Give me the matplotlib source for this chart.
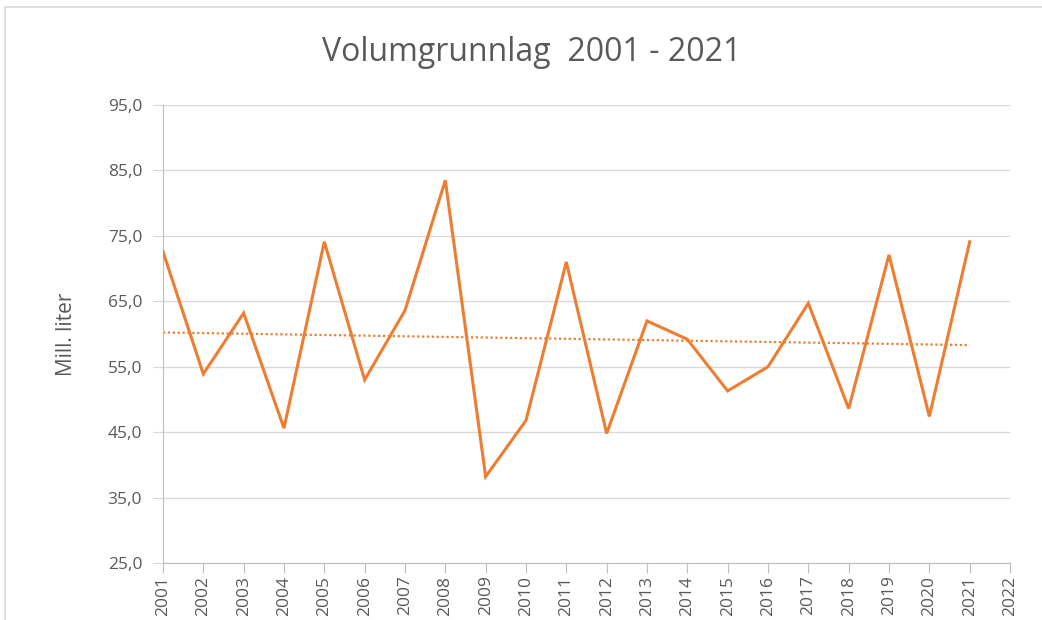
import numpy as np
import matplotlib
matplotlib.use("Agg")
import matplotlib.pyplot as plt
from matplotlib.patches import Rectangle
from matplotlib.ticker import FuncFormatter

years = list(range(2001, 2022))
volume = [72.6, 53.9, 63.2, 45.6, 74.1, 53.0, 63.6, 83.5, 38.2, 46.8,
          71.0, 44.8, 62.0, 59.2, 51.3, 55.0, 64.7, 48.6, 72.1, 47.4, 74.1]
xticks = list(range(2001, 2023))
yticks = [25, 35, 45, 55, 65, 75, 85, 95]

orange = "#ED7D31"
grey_txt = "#595959"
grid_col = "#D9D9D9"

plt.rcParams["font.family"] = ["Open Sans", "DejaVu Sans"]

fig = plt.figure(figsize=(10.42, 6.2), dpi=100)
ax = fig.add_axes([0.1564, 0.0919, 0.8129, 0.7387])

# outer chart frame
fig.patches.append(Rectangle((5 / 1042, -0.1), 1.2, 1.1 - 7 / 620, transform=fig.transFigure,
                             fill=False, edgecolor="#D9D9D9", linewidth=1.2, zorder=0))

ax.plot(years, volume, color=orange, linewidth=2.2, solid_joinstyle="miter", zorder=3)

# linear trend line
k, m = np.polyfit(years, volume, 1)
trend = [k * x + m for x in years]
ax.plot(years, trend, color=orange, linewidth=1.6, linestyle=(0, (1, 1.2)), zorder=2)

ax.set_xlim(2001, 2022)
ax.set_ylim(25, 95)
ax.set_yticks(yticks)
ax.set_xticks(xticks)
ax.yaxis.set_major_formatter(FuncFormatter(lambda v, p: f"{v:.1f}".replace(".", ",")))
ax.tick_params(axis="x", labelrotation=90, labelsize=12.5, colors=grey_txt, length=7,
               color="#BFBFBF", pad=2)
ax.tick_params(axis="y", labelsize=12.5, colors=grey_txt, length=7, color=grid_col, pad=8)

ax.grid(axis="y", color=grid_col, linewidth=1)
ax.set_axisbelow(True)
for s in ["top", "right"]:
    ax.spines[s].set_visible(False)
ax.spines["left"].set_color("#BFBFBF")
ax.spines["bottom"].set_color("#BFBFBF")

ax.set_ylabel("Mill. liter", fontsize=15, color=grey_txt, labelpad=22)
fig.text(0.51, 0.915, "Volumgrunnlag  2001 - 2021", ha="center", va="center",
         fontsize=23, color=grey_txt)

fig.savefig("out.png", dpi=100)
